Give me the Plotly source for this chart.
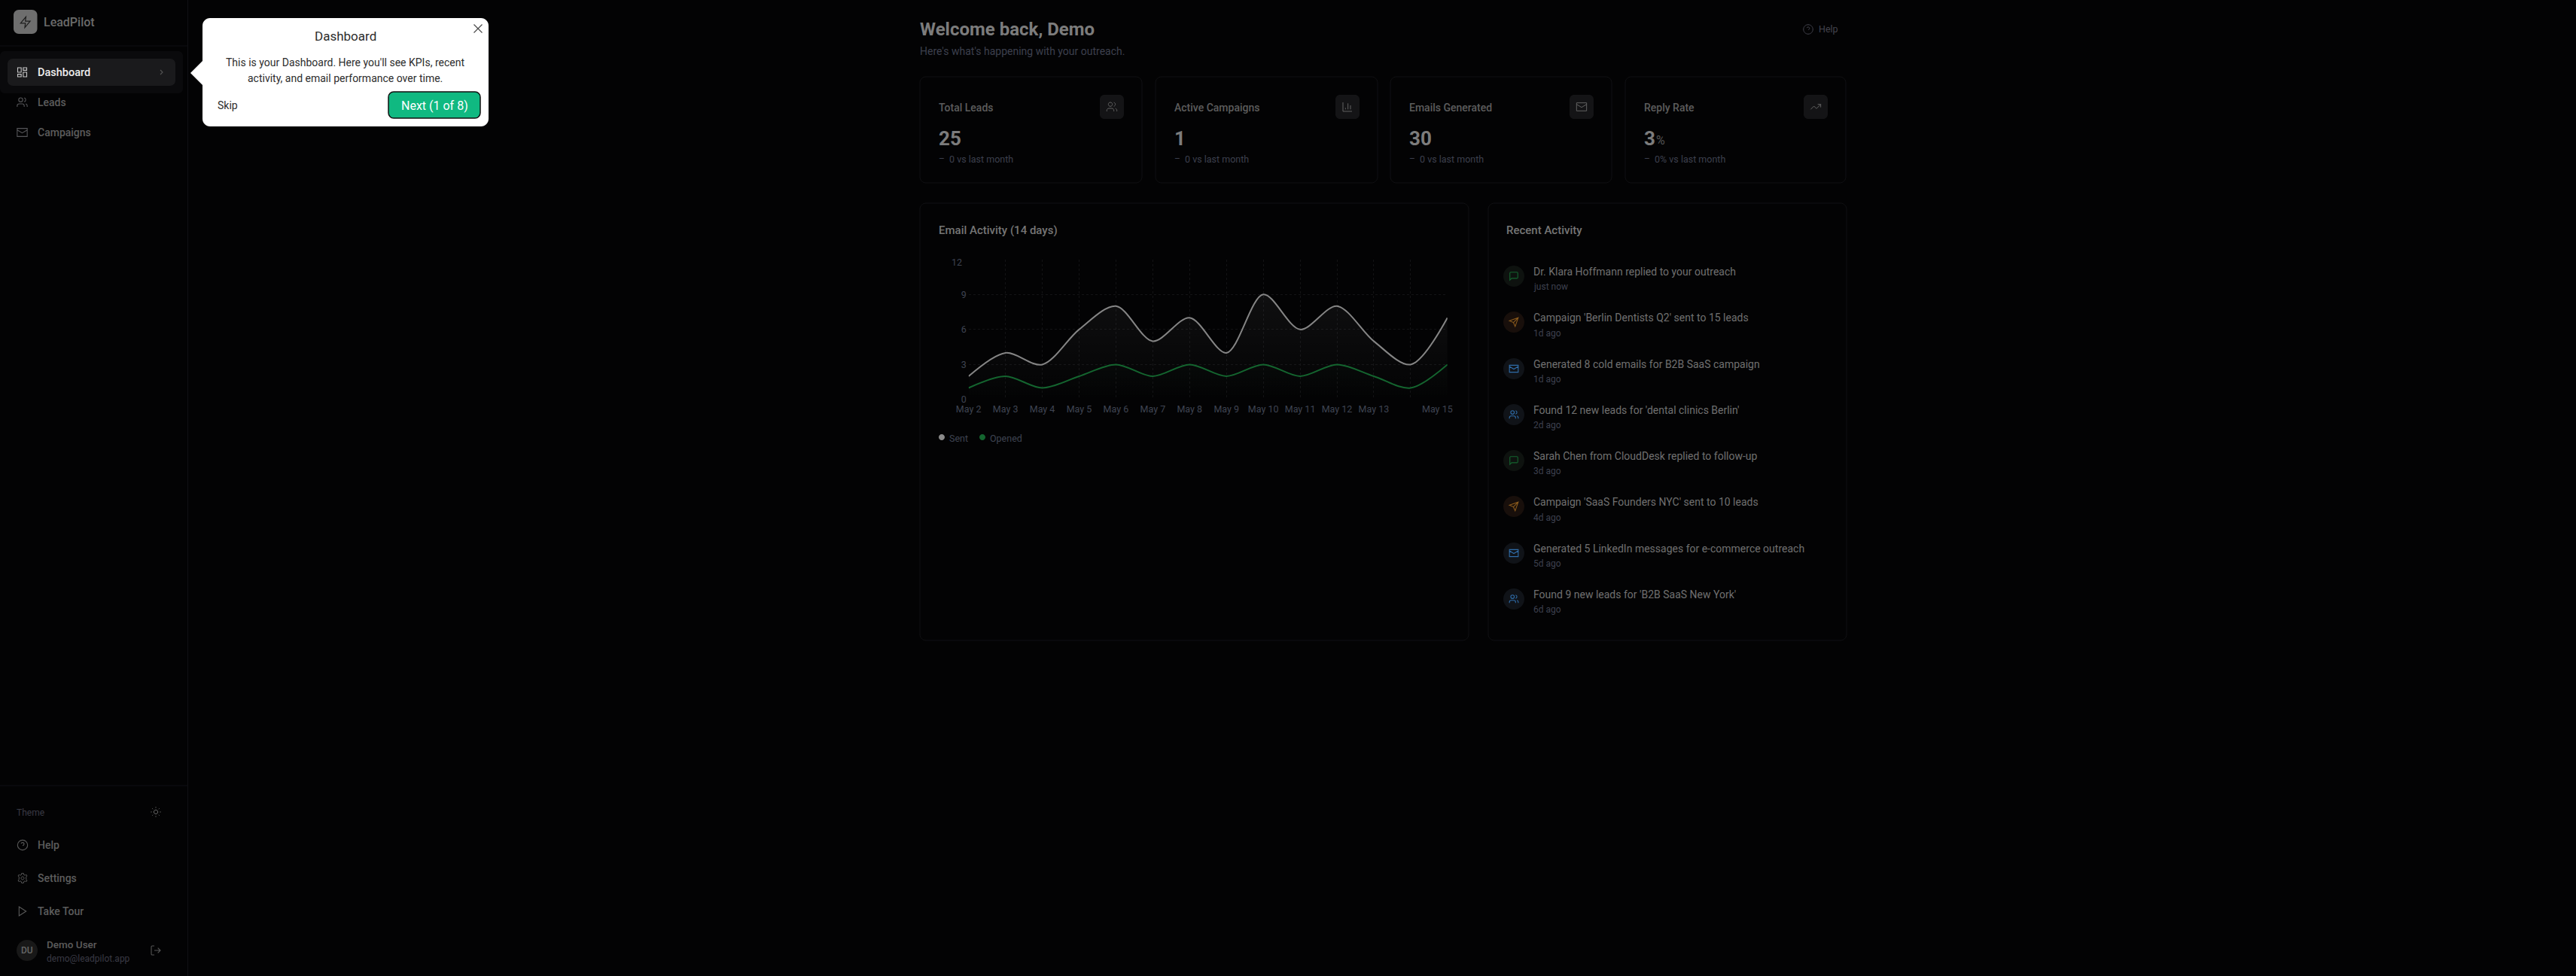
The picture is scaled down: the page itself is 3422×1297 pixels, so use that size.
import re
import plotly.graph_objects as go

W, H = 3422, 1297

# ---- data ----
days = ["May 2","May 3","May 4","May 5","May 6","May 7","May 8","May 9","May 10","May 11","May 12","May 13","May 14","May 15"]
axis_labels = ["May 2","May 3","May 4","May 5","May 6","May 7","May 8","May 9","May 10","May 11","May 12","May 13","",""]
sent = [2,4,3,6,8,5,7,4,9,6,8,5,3,7]
opened = [1,2,1,2,3,2,3,2,3,2,3,2,1,3]
y_ticks = [0,3,6,9,12]
kpi_titles = ["Total Leads","Active Campaigns","Emails Generated","Reply Rate"]
kpi_values = ["25","1","30","3"]
kpi_deltas = ["0 vs last month","0 vs last month","0 vs last month","0% vs last month"]
kpi_icons = ["users","bars","mail","trend"]
activity_text = ["Dr. Klara Hoffmann replied to your outreach","Campaign 'Berlin Dentists Q2' sent to 15 leads",
  "Generated 8 cold emails for B2B SaaS campaign","Found 12 new leads for 'dental clinics Berlin'",
  "Sarah Chen from CloudDesk replied to follow-up","Campaign 'SaaS Founders NYC' sent to 10 leads",
  "Generated 5 LinkedIn messages for e-commerce outreach","Found 9 new leads for 'B2B SaaS New York'"]
activity_when = ["just now","1d ago","1d ago","2d ago","3d ago","4d ago","5d ago","6d ago"]
activity_icons = ["msg","send","mail","users","msg","send","mail","users"]

BG = "#030304"
BORDER = "#111114"
FONT = "Roboto"
TICK = "#3f4452"
DIM = "#3d404e"

shapes, notes = [], []
px = lambda x: x / W
py = lambda y: 1 - y / H

def rpath(x0, y0, x1, y1, r):
    k = r * 0.45
    return [("M",x0+r,y0),("L",x1-r,y0),("C",x1-k,y0,x1,y0+k,x1,y0+r),("L",x1,y1-r),("C",x1,y1-k,x1-k,y1,x1-r,y1),
            ("L",x0+r,y1),("C",x0+k,y1,x0,y1-k,x0,y1-r),("L",x0,y0+r),("C",x0,y0+k,x0+k,y0,x0+r,y0),("Z",)]

def ser(cmds):
    out = []
    for c in cmds:
        pts = c[1:]
        conv = []
        for i in range(0, len(pts), 2):
            conv.append(f"{px(pts[i]):.6f},{py(pts[i+1]):.6f}")
        out.append(c[0] + " ".join(conv))
    return " ".join(out)

def box(x0, y0, x1, y1, r=0, fill=None, line=None, lw=1, layer="below"):
    shapes.append(dict(type="path", xref="paper", yref="paper", path=ser(rpath(x0,y0,x1,y1,max(r,0.01))),
                       fillcolor=fill or "rgba(0,0,0,0)", line=dict(color=line or "rgba(0,0,0,0)", width=lw if line else 0), layer=layer))

def text(s, x, y, size, color, weight=400, anchor="left", font=None):
    notes.append(dict(xref="paper", yref="paper", x=px(x), y=py(y), text=s, showarrow=False, xanchor=anchor, yanchor="middle",
                      borderpad=0, borderwidth=0, font=dict(family=font or FONT, size=size, color=color, weight=weight)))

def circ(cx, cy, r):
    k = r * 0.5523
    return [("M",cx+r,cy),("C",cx+r,cy+k,cx+k,cy+r,cx,cy+r),("C",cx-k,cy+r,cx-r,cy+k,cx-r,cy),
            ("C",cx-r,cy-k,cx-k,cy-r,cx,cy-r),("C",cx+k,cy-r,cx+r,cy-k,cx+r,cy),("Z",)]

def rect24(x, y, w, h):
    return [("M",x,y),("L",x+w,y),("L",x+w,y+h),("L",x,y+h),("Z",)]

gear = [("M",12,2.5),("L",14,2.5),("L",14.6,5.2),("L",17,6.3),("L",19.3,5),("L",21,7.6),("L",19,9.5),("L",19.3,12),("L",19,14.5),("L",21,16.4),
        ("L",19.3,19),("L",17,17.7),("L",14.6,18.8),("L",14,21.5),("L",10,21.5),("L",9.4,18.8),("L",7,17.7),("L",4.7,19),("L",3,16.4),("L",5,14.5),
        ("L",4.7,12),("L",5,9.5),("L",3,7.6),("L",4.7,5),("L",7,6.3),("L",9.4,5.2),("L",10,2.5),("Z",)]

ICONS = {
 "zap": [("M",13,2),("L",3,14),("L",12,14),("L",11,22),("L",21,10),("L",12,10),("Z",)],
 "dash": rect24(3,3,7,9)+rect24(14,3,7,5)+rect24(14,12,7,9)+rect24(3,16,7,5),
 "users": [("M",16,21),("L",16,19),("C",16,16.8,14.2,15,12,15),("L",6,15),("C",3.8,15,2,16.8,2,19),("L",2,21)]+circ(9,7,4)+
          [("M",22,21),("L",22,19),("C",22,17.2,20.7,15.6,19,15.13),("M",16,3.13),("C",17.7,3.6,19,5.2,19,7),("C",19,8.8,17.7,10.4,16,10.87)],
 "mail": rect24(2,4,20,16)+[("M",22,7),("L",12,13),("L",2,7)],
 "chev": [("M",9,18),("L",15,12),("L",9,6)],
 "help": circ(12,12,10)+[("M",9.09,9),("C",9.5,7.8,10.7,7,12,7),("C",13.7,7,15,8.3,15,10),("C",15,12,12,13,12,13),("M",12,17),("L",12.01,17)],
 "gear": gear+circ(12,12,3),
 "play": [("M",5,3),("L",19,12),("L",5,21),("Z",)],
 "logout": [("M",9,21),("L",5,21),("C",3.9,21,3,20.1,3,19),("L",3,5),("C",3,3.9,3.9,3,5,3),("L",9,3),("M",16,17),("L",21,12),("L",16,7),("M",21,12),("L",9,12)],
 "sun": circ(12,12,4)+[("M",12,2),("L",12,4),("M",12,20),("L",12,22),("M",4.93,4.93),("L",6.34,6.34),("M",17.66,17.66),("L",19.07,19.07),
        ("M",2,12),("L",4,12),("M",20,12),("L",22,12),("M",6.34,17.66),("L",4.93,19.07),("M",19.07,4.93),("L",17.66,6.34)],
 "bars": [("M",3,3),("L",3,21),("L",21,21),("M",18,17),("L",18,9),("M",13,17),("L",13,5),("M",8,17),("L",8,14)],
 "trend": [("M",22,7),("L",13.5,15.5),("L",8.5,10.5),("L",2,17),("M",16,7),("L",22,7),("L",22,13)],
 "msg": [("M",21,15),("C",21,16.1,20.1,17,19,17),("L",7,17),("L",3,21),("L",3,5),("C",3,3.9,3.9,3,5,3),("L",19,3),("C",20.1,3,21,3.9,21,5),("Z",)],
 "send": [("M",22,2),("L",11,13),("M",22,2),("L",15,22),("L",11,13),("L",2,9),("Z",)],
 "x": [("M",18,6),("L",6,18),("M",6,6),("L",18,18)],
}

def icon(name, cx, cy, size, color, lw=1.1, layer="above"):
    s = size / 24
    cmds = []
    for c in ICONS[name]:
        p = list(c[1:])
        q = []
        for i in range(0, len(p), 2):
            q += [cx + (p[i]-12)*s, cy + (p[i+1]-12)*s]
        cmds.append((c[0], *q))
    shapes.append(dict(type="path", xref="paper", yref="paper", path=ser(cmds), line=dict(color=color, width=lw),
                       fillcolor="rgba(0,0,0,0)", layer=layer))

def disc(cx, cy, r, fill, layer="above"):
    shapes.append(dict(type="path", xref="paper", yref="paper", path=ser(circ(cx,cy,r)), fillcolor=fill, line=dict(width=0), layer=layer))

# ---- sidebar ----
shapes.append(dict(type="line", xref="paper", yref="paper", x0=px(249.5), x1=px(249.5), y0=0, y1=1, line=dict(color=BORDER, width=1), layer="below"))
shapes.append(dict(type="line", xref="paper", yref="paper", x0=0, x1=px(249.5), y0=py(61), y1=py(61), line=dict(color=BORDER, width=1), layer="below"))
shapes.append(dict(type="line", xref="paper", yref="paper", x0=0, x1=px(249.5), y0=py(1044), y1=py(1044), line=dict(color=BORDER, width=1), layer="below"))
box(18,13,49.5,45,7,fill="#6e6e6e")
icon("zap",33.7,29.5,17,"#1c1c1c",1.2)
text("LeadPilot",58,30,16,"#6a6a6a",500)
box(0,68,243,124,6,fill="#0a0a0c")
box(10,78,233,114,7,fill="#1a1a1c")
icon("dash",29.5,96,16,"#c8c8c8")
text("Dashboard",50,96,14.5,"#eeeeee",500)
icon("chev",214.5,96,12,"#555555")
icon("users",29.5,136,16,"#555558")
text("Leads",50,136,14,"#5c5c5c",500)
icon("mail",29.5,176,16,"#555558")
text("Campaigns",50,176,14,"#5c5c5c",500)
text("Theme",22,1080,12,"#3a3a44")
icon("sun",207,1079,16,"#666666",1)
icon("help",30,1123,16,"#5a5a5a")
text("Help",50,1123,14,"#5c5c5c",500)
icon("gear",30,1167,16,"#5a5a5a",1)
text("Settings",50,1167,14,"#5c5c5c",500)
icon("play",30,1211,16,"#5a5a5a")
text("Take Tour",50,1211,14,"#5c5c5c",500)
disc(36,1263,14,"#181818")
text("DU",36,1263,12,"#666666",500,"center")
text("Demo User",62,1255,13.5,"#5c5c5c",500)
text("demo@leadpilot.app",62,1274,12,"#3a3a44")
icon("logout",207,1263,16,"#555555")

# ---- popover ----
shapes.append(dict(type="path", xref="paper", yref="paper", path=ser([("M",270,80),("L",253,97),("L",270,114),("Z",)]),
                   fillcolor="#ffffff", line=dict(width=0), layer="above"))
box(269,24,649,168,10,fill="#ffffff",layer="above")
text("Dashboard",459,48,17,"#2d2d2d",400,"center")
text("This is your Dashboard. Here you'll see KPIs, recent",459,83,14,"#2d2d2d",400,"center")
text("activity, and email performance over time.",459,104,14,"#2d2d2d",400,"center")
text("Skip",289,140,14,"#2d2d2d")
box(516,122,638,157,7,fill="#10b981",line="#111111",lw=1.5,layer="above")
text("Next (1 of 8)",577,140.5,16,"#ffffff",400,"center")
icon("x",635,38,22,"#444444",1.1)

# ---- header ----
text("Welcome back, Demo",1222,39,24,"#7c7c7c",700)
text("Here's what's happening with your outreach.",1222,68,14,DIM)
icon("help",2402,39,15,"#44444e",1)
text("Help",2416,39,12.5,"#44444e")

# ---- KPI cards ----
card_x = [(1222,1517),(1535,1830),(1847,2141),(2159,2452)]
for (x0,x1),t,v,d,ic in zip(card_x,kpi_titles,kpi_values,kpi_deltas,kpi_icons):
    box(x0,102,x1,243,8,line=BORDER)
    text(t,x0+25,143,14,"#5c5c5c",500)
    box(x1-56,126,x1-24,158,6,fill="#141416")
    icon(ic,x1-40,142,16,"#626262",1)
    text(v,x0+25,184,26,"#7c7c7c",700)
    text("–",x0+25,211.5,12,DIM)
    text(d,x0+39,211.5,12.5,DIM)
text("%",2159+41,186,16,"#555555")

# ---- chart card ----
box(1222,270,1951,851,8,line=BORDER)
text("Email Activity (14 days)",1247,306,15,"#757575",500)
text("12",1278,349,12.5,TICK,400,"right")
text("May 15",1909,543,12.5,TICK,400,"center")
disc(1251,581,4,"#8a8a8a")
text("Sent",1261,582,12.5,TICK)
disc(1305,581,4,"#14652f")
text("Opened",1314.5,582,12.5,TICK)

# ---- recent activity ----
box(1977,270,2453,851,8,line=BORDER)
text("Recent Activity",2001,306,15,"#757575",500)
ICOL = {"msg":("#0e120f","#14652f"),"send":("#180f0b","#8a5a1c"),"mail":("#101318","#2f6ca8"),"users":("#101318","#2f6ca8")}
row_t = [361.5,422,484,545,606,667,729,790]
row_s = [381,443,504,565,626,688,749,810]
row_i = [367,428,490,551,612,673,735,796]
for s,w,ic,a,b,c in zip(activity_text,activity_when,activity_icons,row_t,row_s,row_i):
    disc(2011,c,14,ICOL[ic][0])
    icon(ic,2011,c,14,ICOL[ic][1],1.1)
    text(s,2037,a,14,"#707070")
    text(w,2037,b,12,DIM)

# ---- chart ----
fig = go.Figure()
grad = lambda a: dict(type="vertical", colorscale=[[0,"rgba(255,255,255,0)"],[1,f"rgba(255,255,255,{a})"]])
fig.add_trace(go.Scatter(x=days, y=sent, mode="lines", name="Sent", line=dict(color="#858585", width=2, shape="spline", smoothing=0.9),
                         fill="tozeroy", fillgradient=grad(0.05), hoverinfo="skip"))
fig.add_trace(go.Scatter(x=days, y=opened, mode="lines", name="Opened", line=dict(color="#14652f", width=2, shape="spline", smoothing=0.9),
                         fill="tozeroy", fillgradient=dict(type="vertical", colorscale=[[0,"rgba(20,101,47,0)"],[1,"rgba(20,101,47,0.03)"]]), hoverinfo="skip"))

GRID = "#131315"
fig.update_layout(
    width=W, height=H, autosize=False, margin=dict(l=0,r=0,t=0,b=0,pad=0,autoexpand=False), paper_bgcolor=BG, plot_bgcolor="rgba(0,0,0,0)",
    showlegend=False, shapes=shapes, annotations=notes,
    xaxis=dict(type="category", categoryorder="array", categoryarray=days, range=[0,13], domain=[px(1286.7),px(1922.8)],
               tickmode="array", tickvals=days, ticktext=axis_labels, showgrid=True, gridcolor=GRID, griddash="3px,3px", gridwidth=1,
               zeroline=False, showline=False, ticks="", tickfont=dict(family=FONT,size=12.5,color=TICK), ticklabelstandoff=3),
    yaxis=dict(range=[0,12], domain=[py(531),py(344.7)], tickmode="array", tickvals=y_ticks, ticktext=["0","3","6","9",""],
               showgrid=True, gridcolor=GRID, griddash="3px,3px", gridwidth=1, zeroline=False, showline=False, ticks="",
               tickfont=dict(family=FONT,size=12.5,color=TICK), ticklabelstandoff=2),
)
fig.write_html("out.html", config={"displayModeBar": False},
               post_script="document.body.style.margin='0';document.body.style.overflow='hidden';document.body.style.background='#030304';")
